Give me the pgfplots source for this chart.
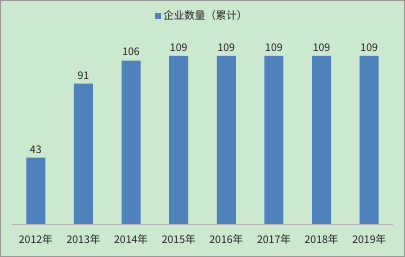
\documentclass[border=0pt]{standalone}
\usepackage{pgfplots}
\pgfplotsset{compat=1.18}
\usepackage{fontspec}
\setmainfont{Noto Sans CJK SC}
\definecolor{bg}{RGB}{204,232,207}
\definecolor{barc}{RGB}{79,129,189}
\begin{document}
\begin{tikzpicture}[x=1pt,y=1pt]
\fill[bg] (0,0) rectangle (405,257);
\draw[black!40, line width=1pt] (0.5,0.5) rectangle (404.5,256.5);
\begin{axis}[
  at={(12pt,33pt)}, anchor=south west,
  scale only axis, width=381pt, height=185pt,
  ymin=0, ymax=120, xmin=-0.5, xmax=7.5,
  /pgf/number format/assume math mode=true,
  axis y line=none, axis x line=bottom,
  x axis line style={-, draw=black!30},
  xtick=data, xtick style={draw=none},
  xticklabels={2012年,2013年,2014年,2015年,2016年,2017年,2018年,2019年},
  xticklabel style={font=\fontsize{10.5}{12}\selectfont, text=black!85, yshift=-3pt},
  ybar, bar width=19pt,
  nodes near coords,
  every node near coord/.append style={font=\fontsize{10.5}{12}\selectfont, text=black!85, yshift=1pt},
  legend style={at={(0.5,1.124)}, anchor=center, draw=none, fill=none,
    font=\fontsize{10.5}{12}\selectfont, text=black!85},
  legend image code/.code={\fill[barc] (0pt,-3pt) rectangle (6pt,3pt);},
]
\addplot[fill=barc, draw=none] coordinates {(0,43) (1,91) (2,106) (3,109) (4,109) (5,109) (6,109) (7,109)};
\addlegendentry{企业数量（累计）}
\end{axis}
\end{tikzpicture}
\end{document}
